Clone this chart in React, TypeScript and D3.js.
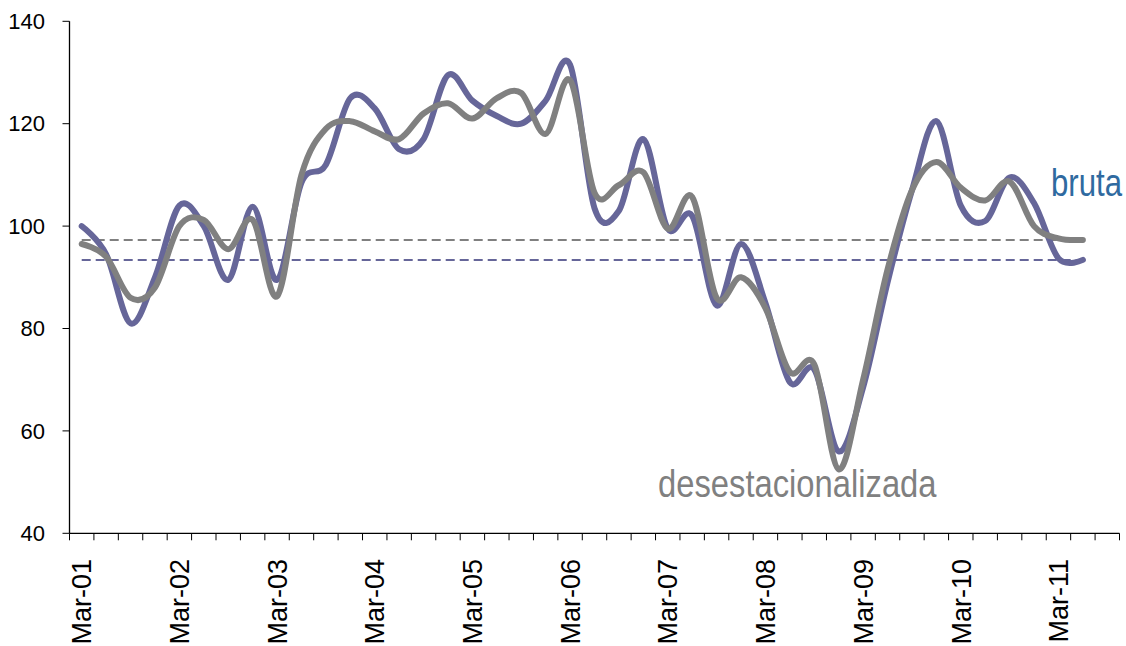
import React from "react";
import * as d3 from "d3";

const categories = [
  "Mar-01","Jun-01","Sep-01","Dec-01",
  "Mar-02","Jun-02","Sep-02","Dec-02",
  "Mar-03","Jun-03","Sep-03","Dec-03",
  "Mar-04","Jun-04","Sep-04","Dec-04",
  "Mar-05","Jun-05","Sep-05","Dec-05",
  "Mar-06","Jun-06","Sep-06","Dec-06",
  "Mar-07","Jun-07","Sep-07","Dec-07",
  "Mar-08","Jun-08","Sep-08","Dec-08",
  "Mar-09","Jun-09","Sep-09","Dec-09",
  "Mar-10","Jun-10","Sep-10","Dec-10",
  "Mar-11","Jun-11","Sep-11",
];

const bruta = [
  100, 94.5, 81, 90, 104, 100, 89.5, 103.8,
  89.5, 108.5, 112, 125, 123, 115, 117, 129.5,
  124.5, 121.5, 120, 124.5, 131.5, 103.5, 103, 117,
  99.5, 102, 84.5, 96.5, 85, 69.5, 72, 56,
  68.5, 89, 107, 120.5, 104, 101, 109.5, 104.5,
  93.7, 93.4,
];

const desestacionalizada = [
  96.5, 94, 86, 88, 100, 101.2, 95.5, 101.2,
  86.3, 110, 119, 120.5, 118.5, 117, 122, 124,
  121, 125, 126, 118, 128.5, 106.5, 108, 110.5,
  99.5, 105.7, 86, 90, 84, 71.5, 73, 52.5,
  70, 91.5, 107, 112.5, 107.5, 105, 108.7, 100,
  97.6, 97.3,
];

const yTicks = [40, 60, 80, 100, 120, 140];

const BLUE = "#666699";
const GREY = "#808080";

export default function App() {
  const W = 1126;
  const H = 646;
  const x = d3.scaleBand<string>().domain(categories).range([69.5, 1119.5]).padding(0);
  const y = d3.scaleLinear().domain([40, 140]).range([533.3, 21.3]);
  const cx = (i: number) => (x(categories[i]) as number) + x.bandwidth() / 2;

  const line = d3
    .line<number>()
    .x((_, i) => cx(i))
    .y((d) => y(d))
    .curve(d3.curveCardinal.tension(0));

  const brutaRef = bruta.map(() => bruta[bruta.length - 1]);
  const desRef = desestacionalizada.map(() => desestacionalizada[desestacionalizada.length - 1]);
  const straight = d3
    .line<number>()
    .x((_, i) => cx(i))
    .y((d) => y(d));

  const x0 = 69.5;
  const yBottom = y(40);
  const bounds = categories.map((c) => x(c) as number).concat([1119.5]);

  return (
    <svg
      width={W}
      height={H}
      style={{ position: "absolute", left: 0, top: 0, background: "#fff" }}
      fontFamily="'Liberation Sans', Arial, sans-serif"
    >
      {/* axes */}
      <line x1={x0} x2={x0} y1={y(140)} y2={yBottom} stroke="#000" strokeWidth={1.3} />
      <line x1={x0} x2={1119.5} y1={yBottom} y2={yBottom} stroke="#000" strokeWidth={1.3} />
      {yTicks.map((t) => (
        <g key={t}>
          <line x1={x0 - 7} x2={x0} y1={y(t)} y2={y(t)} stroke="#000" strokeWidth={1} />
          <text x={45} y={y(t)} dy="0.35em" textAnchor="end" fontSize={22} fill="#000">
            {t}
          </text>
        </g>
      ))}
      {bounds.map((b, i) => (
        <line key={i} x1={b} x2={b} y1={yBottom} y2={yBottom + 7} stroke="#000" strokeWidth={1} />
      ))}
      {categories.map((c, i) =>
        i % 4 === 0 ? (
          <text
            key={c}
            transform={`translate(${cx(i)},${559}) rotate(-90)`}
            dy="0.36em"
            textAnchor="end"
            fontSize={27}
            fill="#000"
          >
            {c}
          </text>
        ) : null
      )}

      {/* reference dashed lines */}
      <path d={straight(desRef) || ""} fill="none" stroke={GREY} strokeWidth={2} strokeDasharray="9,5" />
      <path d={straight(brutaRef) || ""} fill="none" stroke={BLUE} strokeWidth={2} strokeDasharray="9,5" />

      {/* series */}
      <path d={line(bruta) || ""} fill="none" stroke={BLUE} strokeWidth={6} strokeLinejoin="round" strokeLinecap="round" />
      <path d={line(desestacionalizada) || ""} fill="none" stroke={GREY} strokeWidth={6} strokeLinejoin="round" strokeLinecap="round" />

      {/* labels */}
      <text
        transform="translate(1051,196) scale(0.8,1)"
        fontSize={39}
        fill="#2F6AA0"
      >
        bruta
      </text>
      <text
        transform="translate(658,497) scale(0.84,1)"
        fontSize={39}
        fill={GREY}
      >
        desestacionalizada
      </text>
    </svg>
  );
}
